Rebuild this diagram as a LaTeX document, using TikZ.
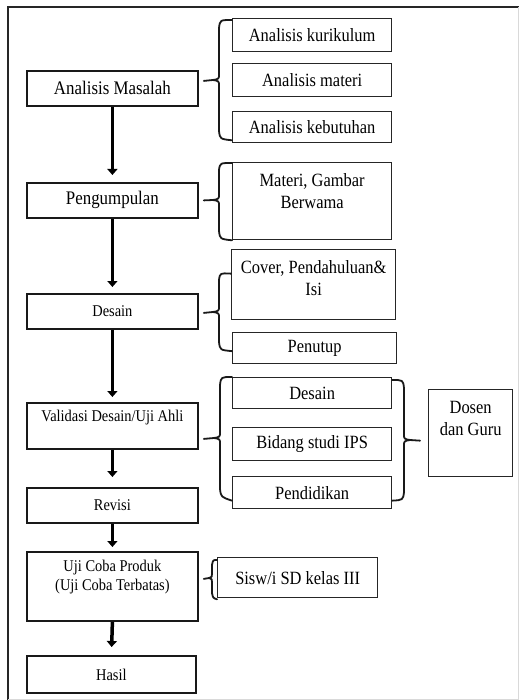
\documentclass[tikz,border=0pt]{standalone}
\usepackage{fontspec}
\setmainfont{Liberation Serif}[FakeStretch=0.88]
\usetikzlibrary{arrows.meta,calc}
\begin{document}
\begin{tikzpicture}[x=1pt,y=-1pt,
  lbox/.style={draw=black!90,line width=1.8pt,rectangle,inner sep=0pt,anchor=north west},
  rbox/.style={draw=black!85,line width=1.3pt,rectangle,inner sep=0pt,anchor=north west},
  big/.style={font=\fontsize{19.2}{22}\selectfont},
  small/.style={font=\fontsize{16.4}{19}\selectfont},
  rtxt/.style={font=\fontsize{18.7}{22.5}\selectfont},
  arr/.style={line width=3.5pt,-{Triangle[width=10pt,length=6pt]}},
  brc/.style={line width=1.8pt,black!90,line cap=round,line join=round}
]
\useasboundingbox (0,0) rectangle (519,700);
% frame
\draw[line width=2pt,black!85] (8,700) -- (8,7) -- (519,7);
\draw[line width=0.8pt,black!15] (518,7) -- (518,699) -- (8,699);

% left boxes
\node[lbox,minimum width=171,minimum height=35,big] (am) at (26,70) {Analisis Masalah};
\node[lbox,minimum width=171,minimum height=35,big] (pg) at (26,182) {Pengumpulan};
\node[lbox,minimum width=171,minimum height=35,small] (ds) at (26,293) {Desain};
\node[lbox,minimum width=171,minimum height=46] (vd) at (26,402) {};
\node[small] (tvd) at ($(vd.north)+(0,16)$) {Validasi Desain/Uji Ahli};
\node[lbox,minimum width=171,minimum height=35,small] (rv) at (26,487) {Revisi};
\node[lbox,minimum width=171,minimum height=69] (uc) at (26,551) {};
\node[small,align=center] (tuc) at ($(uc.north)+(0,26.5)$) {Uji Coba Produk\\(Uji Coba Terbatas)};
\node[lbox,minimum width=169,minimum height=37,small] (hs) at (26,655) {Hasil};

% right boxes
\node[rbox,minimum width=159,minimum height=33,rtxt] (ak) at (232,18) {Analisis kurikulum};
\node[rbox,minimum width=159,minimum height=33,rtxt] (amt) at (232,63) {Analisis materi};
\node[rbox,minimum width=159,minimum height=31,rtxt] (akb) at (232,111) {Analisis kebutuhan};
\node[rbox,minimum width=159,minimum height=77] (mg) at (232,162) {};
\node[rtxt,align=center] (tmg) at ($(mg.north)+(0,29)$) {Materi, Gambar\\Berwama};
\node[rbox,minimum width=164,minimum height=70] (cv) at (231,249) {};
\node[rtxt,align=center] (tcv) at ($(cv.north)+(0,29)$) {Cover, Pendahuluan\&\\Isi};
\node[rbox,minimum width=164,minimum height=31,rtxt] (pn) at (232,332) {Penutup};
\node[rbox,minimum width=159,minimum height=31,rtxt] (dsr) at (232,377) {Desain};
\node[rbox,minimum width=159,minimum height=33,rtxt] (bs) at (232,427) {Bidang studi IPS};
\node[rbox,minimum width=159,minimum height=32,rtxt] (pd) at (232,476) {Pendidikan};
\node[rbox,minimum width=84,minimum height=87] (dg) at (428,389) {};
\node[rtxt,align=center] (tdg) at ($(dg.north)+(0,29.5)$) {Dosen\\dan Guru};
\node[rbox,minimum width=160,minimum height=40,rtxt] (sw) at (217,557) {Sisw/i SD kelas III};

% arrows
\draw[arr,shorten >=7pt] (am.south) -- (pg.north);
\draw[arr,shorten >=6pt] (pg.south) -- (ds.north);
\draw[arr,shorten >=5pt] (ds.south) -- (vd.north);
\draw[arr,shorten >=10pt] (vd.south) -- (rv.north);
\draw[arr,shorten >=4pt] (rv.south) -- (uc.north);
\draw[arr,shorten >=8pt] (uc.south) -- (hs.north);

% braces: left-side "{"
% group 1
\coordinate (b1t) at ($(ak.north west)+(0,2)$);
\coordinate (b1b) at ($(akb.south west)+(0,-3)$);
\coordinate (b1m) at ($(am.east)+(5,-7.5)$);
\draw[brc] (b1t) .. controls (220,20) .. (219,28) -- (219,74) .. controls (219,79) .. (213,80) -- (b1m);
\draw[brc] (213,80) .. controls (219,81) .. (219,86) -- (219,131) .. controls (220,139) .. (b1b);
% group 2
\coordinate (b2t) at ($(mg.north west)+(0,1)$);
\coordinate (b2b) at ($(mg.south west)+(0,0)$);
\coordinate (b2m) at ($(pg.east)+(5,0)$);
\draw[brc] (b2t) .. controls (220,163) .. (219,170) -- (219,194) .. controls (219,199) .. (213,200) -- (b2m);
\draw[brc] (213,200) .. controls (219,201) .. (219,206) -- (219,231) .. controls (220,239) .. (b2b);
% group 3
\coordinate (b3t) at ($(cv.west)+(0,-11)$);
\coordinate (b3b) at ($(pn.west)+(0,3)$);
\coordinate (b3m) at ($(ds.east)+(5,1.5)$);
\draw[brc] (b3t) .. controls (220,273) .. (219,280) -- (219,306) .. controls (219,311) .. (213,312) -- (b3m);
\draw[brc] (213,312) .. controls (219,313) .. (219,318) -- (219,342) .. controls (220,350) .. (b3b);
% group 4
\coordinate (b4t) at (dsr.north west);
\coordinate (b4b) at ($(pd.west)+(0,8)$);
\coordinate (b4m) at ($(vd.east)+(5,13)$);
\draw[brc] (b4t) .. controls (221,377) .. (220,385) -- (220,432) .. controls (220,437) .. (214,438) -- (b4m);
\draw[brc] (214,438) .. controls (220,439) .. (220,444) -- (220,489) .. controls (221,497) .. (b4b);
% right-side "}"
\coordinate (b5t) at ($(dsr.north east)+(0,3)$);
\coordinate (b5b) at ($(pd.east)+(0,8)$);
\coordinate (b5m) at ($(dg.west)+(-8,7.5)$);
\draw[brc] (b5t) .. controls (403,380) .. (404,388) -- (404,434) .. controls (404,439) .. (410,440) -- (b5m);
\draw[brc] (410,440) .. controls (404,441) .. (404,446) -- (404,492) .. controls (403,500) .. (b5b);
% group 6
\coordinate (b6t) at ($(sw.north west)+(0,3)$);
\coordinate (b6b) at ($(sw.south west)+(0,1)$);
\coordinate (b6m) at ($(uc.east)+(5,-7.5)$);
\draw[brc] (b6t) .. controls (213,560) .. (212,565) -- (212,574) .. controls (212,577) .. (209,578) -- (b6m);
\draw[brc] (209,578) .. controls (212,579) .. (212,582) -- (212,593) .. controls (213,598) .. (b6b);
\end{tikzpicture}
\end{document}
